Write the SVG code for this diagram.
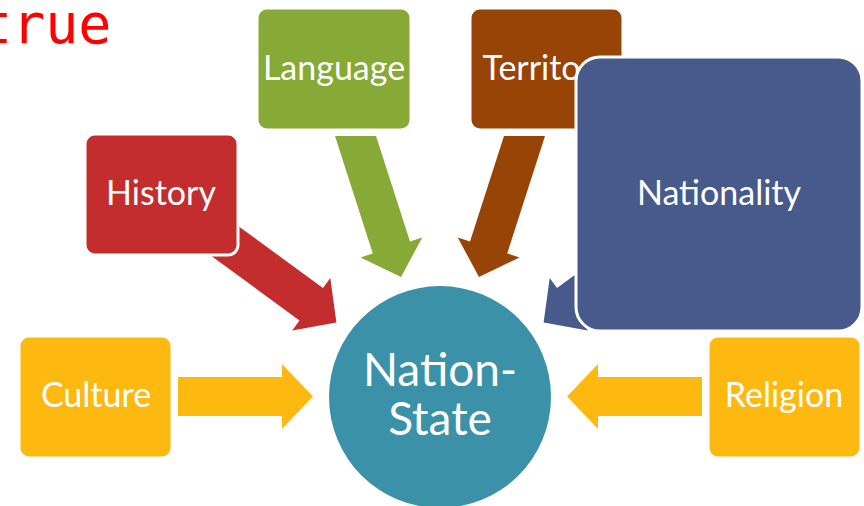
<svg xmlns="http://www.w3.org/2000/svg" width="864" height="506" viewBox="0 0 864 506">
<style>
.box{stroke:#fff;stroke-width:3}
.lbl{font-family:Lato,"Open Sans","Liberation Sans",sans-serif;font-size:34px;fill:#fff;text-anchor:middle}
</style>
<rect width="864" height="506" fill="#fff"/>
<text x="-21" y="43" font-family="'DejaVu Sans Mono','Liberation Mono',monospace" font-size="55" fill="#ff0000">true</text>
<g id="connectors">
<polygon fill="#C32D2E" points="219,212 323,288 330.3,277.9 336.4,322.4 292.2,330.5 299.5,320.4 195.5,244.4"/>
<polygon fill="#86AA35" points="335,136 376,136 410,241.4 422.3,237.4 401,277 360.5,257.4 372.8,253.4"/>
<polygon fill="#984406" points="545,136 504,136 470,241.4 457.7,237.4 479,277 519.5,257.4 507.2,253.4"/>
<polygon fill="#475A8B" points="661,212 557,288 549.7,277.9 543.6,322.4 587.8,330.5 580.5,320.4 684.5,244.4"/>
<polygon fill="#FDB90F" points="178,377 282,377 282,364 313,396.5 282,429 282,416 178,416"/>
<polygon fill="#FDB90F" points="702,377 598,377 598,364 567,396.5 598,429 598,416 702,416"/>
</g>
<g id="nation-state">
<circle cx="440" cy="397" r="111" fill="#3A91A8"/>
<text class="lbl" x="440" y="386" style="font-size:46px">Nation-</text>
<text class="lbl" x="440" y="435" style="font-size:46px">State</text>
</g>
<g id="history">
<rect class="box" x="85" y="134" width="153" height="121" rx="10" fill="#C32D2E"/>
<text class="lbl" x="161" y="205">History</text>
</g>
<g id="language">
<rect class="box" x="257" y="8" width="154" height="122" rx="10" fill="#86AA35"/>
<text class="lbl" x="334" y="80">Language</text>
</g>
<g id="territory">
<rect class="box" x="470" y="8" width="153" height="122" rx="10" fill="#984406"/>
<text class="lbl" x="546.5" y="80">Territory</text>
</g>
<g id="culture">
<rect class="box" x="19" y="336" width="153" height="122" rx="10" fill="#FDB90F"/>
<text class="lbl" x="96" y="407">Culture</text>
</g>
<g id="religion">
<rect class="box" x="708" y="336" width="153" height="122" rx="10" fill="#FDB90F"/>
<text class="lbl" x="784" y="407">Religion</text>
</g>
<g id="nationality">
<rect class="box" x="576" y="57" width="286" height="274" rx="24" fill="#475A8B" stroke-width="4"/>
<text class="lbl" x="719" y="205">Nationality</text>
</g>
</svg>
